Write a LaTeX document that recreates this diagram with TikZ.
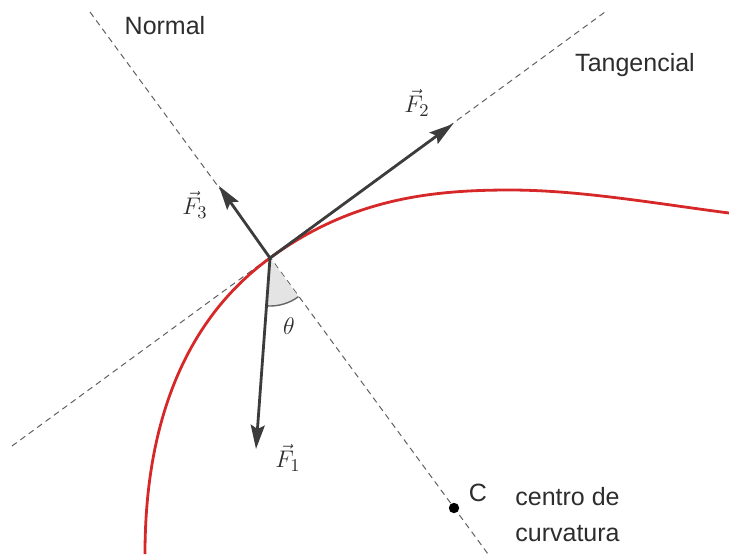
\documentclass[tikz,border=0pt]{standalone}
\usepackage[no-math]{fontspec}
\usepackage{amsmath}
\usepackage{xcolor}
\usepackage{tikz}
\usetikzlibrary{arrows.meta,positioning,calc}
\newfontfamily\rotulofont{Liberation Sans}
\definecolor{curvarojo}{RGB}{214,40,40}
\definecolor{fuerzagris}{RGB}{60,60,60}
\definecolor{textogris}{RGB}{45,45,45}
\definecolor{angulogris}{RGB}{228,228,228}

\begin{document}
\begin{tikzpicture}[
    x=0.5pt, y=-0.5pt,
    eje/.style={draw=gray!75!black, line width=0.5pt, dash pattern=on 3pt off 2.2pt},
    fuerza/.style={->, draw=fuerzagris, line width=1.4pt},
    rotulo/.style={font=\rotulofont\fontsize{12.5}{18}\selectfont, text=textogris, inner sep=0pt},
    vector/.style={font=\fontsize{13}{15}\selectfont, text=textogris, inner sep=0pt},
    >={Stealth[length=12pt, width=7pt, inset=2pt]}
]
\useasboundingbox (0,0) rectangle (729,554);

\coordinate (P) at (270,258);
\coordinate (C) at (454,508);
\coordinate (tanA) at (12,446);
\coordinate (tanB) at (605,12);
\coordinate (norA) at (90,12);
\coordinate (norB) at (488,554);
\coordinate (tipF1) at (256,449);
\coordinate (tipF2) at (453,124);
\coordinate (tipF3) at (219,186);

% ejes
\draw[eje] (tanA) -- (tanB);
\draw[eje] (norA) -- (norB);

% angulo theta
\fill[angulogris] (P) -- ++(-53.6:24pt) arc[start angle=-53.6, end angle=-93.9, radius=24pt] -- cycle;
\draw[gray!80!black, line width=0.7pt] (P) ++(-53.6:24pt) arc[start angle=-53.6, end angle=-93.9, radius=24pt];

% trayectoria
\draw[curvarojo, line width=1.4pt] (145,554) .. controls (145,404) and (197,311) .. (P)
    .. controls (350.7,199) and (430,190) .. (510,190)
    .. controls (580,190) and (659,204) .. (729,213);

% fuerzas
\draw[fuerza] (P) -- (tipF2);
\draw[fuerza] (P) -- (tipF3);
\draw[fuerza] (P) -- (tipF1);
\fill[fuerzagris] (P) circle (1pt);

\fill[black] (C) circle (2.6pt);

\node[rotulo] (lNormal) at (165,26) {Normal};
\node[rotulo] (lTangencial) at (635,65) {Tangencial};
\node[rotulo] (lC) at (478,493) {C};
\node[rotulo, align=left, anchor=west] (lCentro) at (515,515) {centro de\\curvatura};

\node[vector] (lF1) at (288,458) {$\vec{F}_1$};
\node[vector] (lF2) at (417,103) {$\vec{F}_2$};
\node[vector] (lF3) at (195,205) {$\vec{F}_3$};
\node[vector] (ltheta) at (289,326) {$\theta$};
\end{tikzpicture}
\end{document}
